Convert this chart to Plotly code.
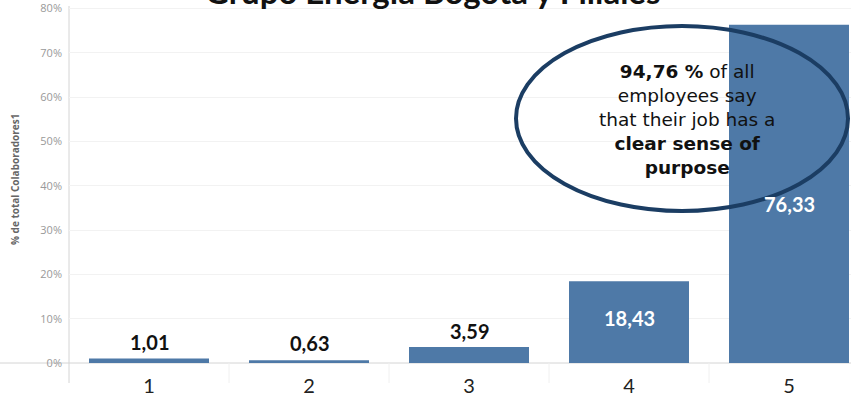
import plotly.graph_objects as go

categories = ["1", "2", "3", "4", "5"]
values = [1.01, 0.63, 3.59, 18.43, 76.33]
value_labels = ["1,01", "0,63", "3,59", "18,43", "76,33"]
label_inside = [False, False, False, True, True]
y_ticks = [0, 10, 20, 30, 40, 50, 60, 70, 80]
title_text = "Grupo Energía Bogotá y Filiales"
y_title = "% de total Colaboradores1"
callout_text = ("<b>94,76 %</b> of all<br>employees say<br>that their job has a"
                "<br><b>clear sense of</b><br><b>purpose</b>")

W, H = 851, 397
ML, MR, MT, MB = 69, 0, 6, 34
PW = W - ML - MR
PH = H - MT - MB

BAR = "#4e79a7"
NAVY = "#1b3d63"
label_yshift = [17, 17, 16, 4, -10]

xpos = [i + 1 for i in range(len(categories))]

fig = go.Figure()
fig.add_trace(go.Bar(
    x=xpos, y=values, width=0.75, marker=dict(color=BAR, line=dict(width=0)),
    hoverinfo="skip", showlegend=False,
))

annotations = []
for x, v, t, ins, sh in zip(xpos, values, value_labels, label_inside, label_yshift):
    if ins:
        annotations.append(dict(x=x, y=v / 2, xref="x", yref="y", text=t, showarrow=False,
                                yanchor="middle", yshift=sh,
                                font=dict(family="Lato", size=20, color="white", weight="bold")))
    else:
        annotations.append(dict(x=x, y=v, xref="x", yref="y", text=t, showarrow=False,
                                yanchor="middle", yshift=sh,
                                font=dict(family="Lato", size=20, color="#111111", weight="bold")))

# title (partially cut at top, as in the source)
annotations.append(dict(x=(433 - ML) / PW, y=(PH + MT - 13) / PH, xref="paper", yref="paper",
                        text=title_text, showarrow=False, xanchor="center", yanchor="bottom",
                        font=dict(family="Lato", size=33, color="#111111", weight="bold")))
# y axis title
annotations.append(dict(x=(15 - ML) / PW, y=(PH + MT - 180) / PH, xref="paper", yref="paper",
                        text=y_title, showarrow=False, textangle=-90,
                        xanchor="center", yanchor="middle",
                        font=dict(family="Open Sans", size=10, color="#666666", weight="bold")))
# callout text
annotations.append(dict(x=(687 - ML) / PW, y=(PH + MT - 120) / PH, xref="paper", yref="paper",
                        text=callout_text, showarrow=False, xanchor="center", yanchor="middle",
                        align="center",
                        font=dict(family="DejaVu Sans", size=18.5, color="#111111")))

shapes = [
    dict(type="circle", xref="paper", yref="paper",
         x0=(516 - ML) / PW, x1=(848 - ML) / PW,
         y0=(PH + MT - 211) / PH, y1=(PH + MT - 26) / PH,
         line=dict(color=NAVY, width=4), fillcolor="rgba(0,0,0,0)", layer="above"),
    dict(type="line", xref="paper", yref="paper", x0=-ML / PW, x1=1, y0=0, y1=0,
         line=dict(color="#d4d4d4", width=1), layer="below"),
    dict(type="line", xref="paper", yref="paper", x0=0, x1=0, y0=-20 / PH, y1=1,
         line=dict(color="#d4d4d4", width=1), layer="below"),
]
for i in range(len(categories) - 1):
    shapes.append(dict(type="line", xref="x", yref="paper", x0=xpos[i] + 0.5, x1=xpos[i] + 0.5,
                       y0=-20 / PH, y1=0, line=dict(color="#f0f0f0", width=1), layer="below"))

fig.update_layout(
    width=W, height=H,
    margin=dict(l=ML, r=MR, t=MT, b=MB, pad=0),
    paper_bgcolor="white", plot_bgcolor="white",
    annotations=annotations, shapes=shapes,
    xaxis=dict(range=[0.5, 0.5 + PW / 160], tickmode="array", tickvals=xpos, ticktext=categories,
               showgrid=False, zeroline=False, showline=False, ticks="",
               tickfont=dict(family="Lato", size=20, color="#222222"), ticklabelstandoff=9),
    yaxis=dict(range=[0, PH / 44.3 * 10], tickmode="array", tickvals=y_ticks,
               ticktext=[f"{t}%" for t in y_ticks],
               showgrid=True, gridcolor="#f2f2f2", gridwidth=1, zeroline=False, showline=False,
               ticks="", tickfont=dict(family="Open Sans", size=11, color="#999999"),
               ticklabelstandoff=6),
    font=dict(family="Open Sans"),
)

fig.write_html("out.html")
